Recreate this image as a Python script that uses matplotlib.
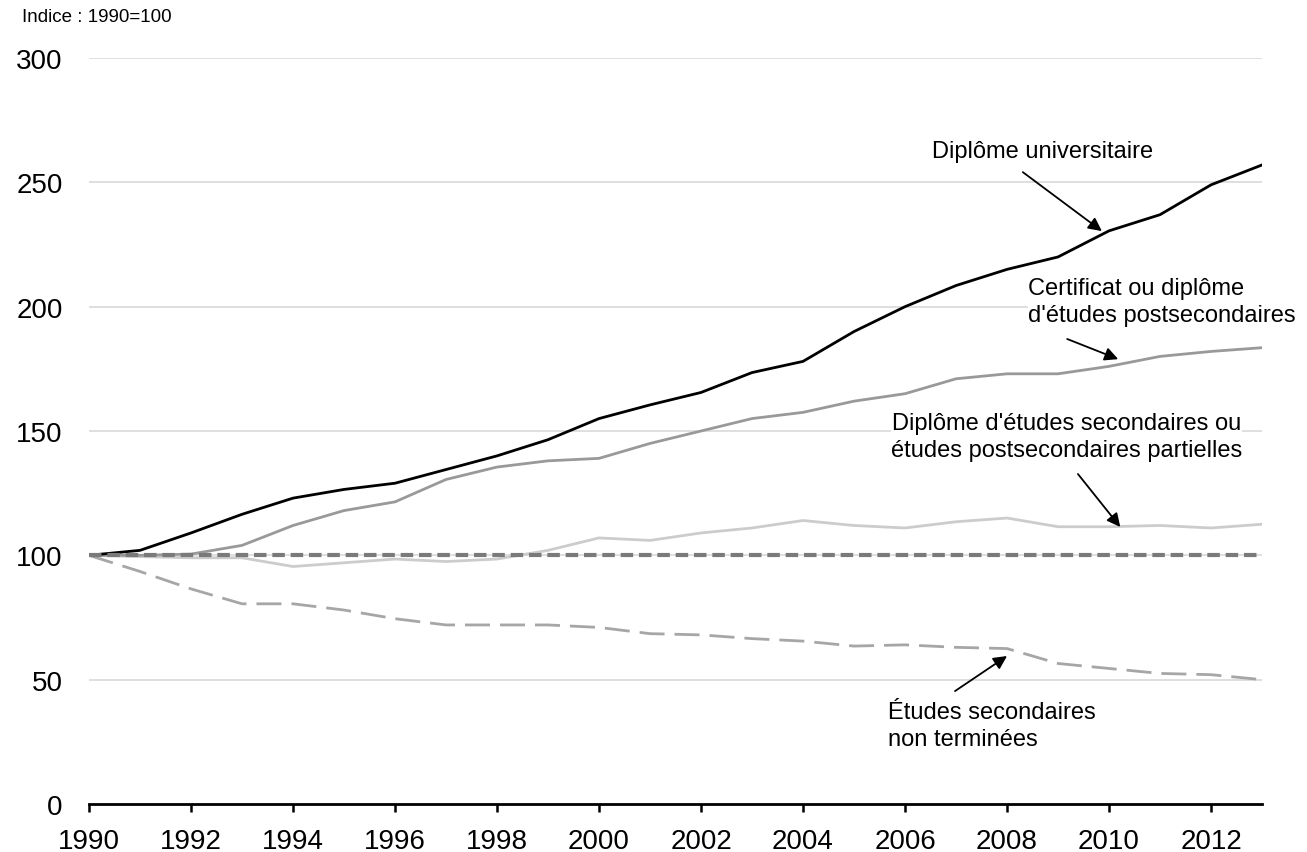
import matplotlib.pyplot as plt

plt.rcParams['font.family'] = ['Liberation Sans', 'DejaVu Sans']

# Données (indice 1990=100)
years = list(range(1990, 2014))
universitaire = [100, 102, 109, 116.5, 123, 126.5, 129, 134.5, 140, 146.5, 155, 160.5,
                 165.5, 173.5, 178, 190, 200, 208.5, 215, 220, 230.5, 237, 249, 257]
certificat = [100, 100, 100.5, 104, 112, 118, 121.5, 130.5, 135.5, 138, 139, 145,
              150, 155, 157.5, 162, 165, 171, 173, 173, 176, 180, 182, 183.5]
secondaires = [100, 99.5, 99, 99, 95.5, 97, 98.5, 97.5, 98.5, 102, 107, 106,
               109, 111, 114, 112, 111, 113.5, 115, 111.5, 111.5, 112, 111, 112.5]
non_terminees = [100, 93.5, 86.5, 80.5, 80.5, 78, 74.5, 72, 72, 72, 71, 68.5,
                 68, 66.5, 65.5, 63.5, 64, 63, 62.5, 56.5, 54.5, 52.5, 52, 50]
baseline = [100] * len(years)

y_ticks = [0, 50, 100, 150, 200, 250, 300]
x_ticks = list(range(1990, 2013, 2))

fig = plt.figure(figsize=(13.07, 8.53), dpi=100)
ax = fig.add_axes([0.0681, 0.0563, 0.8975, 0.8745])

ax.plot(years, universitaire, color='black', lw=2.0, zorder=5)
ax.plot(years, certificat, color='#999999', lw=2.0, zorder=4)
ax.plot(years, secondaires, color='#cccccc', lw=2.0, zorder=3)
ax.plot(years, non_terminees, color='#a6a6a6', lw=2.0, dashes=(9, 3.6), zorder=3)
ax.plot(years, baseline, color='#7a7a7a', lw=3.0, dashes=(3.0, 1.4), zorder=6)

ax.set_xlim(1990, 2013)
ax.set_ylim(0, 300)
ax.set_yticks(y_ticks)
ax.set_xticks(x_ticks)
for v in y_ticks[1:]:
    ax.axhline(v, color='#d9d9d9', lw=1.2, zorder=1)

for s in ['left', 'right', 'top']:
    ax.spines[s].set_visible(False)
ax.spines['bottom'].set_linewidth(2.0)
ax.tick_params(axis='y', length=0, pad=19, labelsize=20)
ax.tick_params(axis='x', length=6, width=1.8, direction='out', pad=11, labelsize=20)

fig.text(22 / 1307, 1 - 18 / 853, 'Indice : 1990=100', fontsize=13.5, va='center', ha='left')

arrow = dict(arrowstyle='-|>', color='black', lw=1.3, mutation_scale=20, shrinkA=0, shrinkB=0)
box = dict(facecolor='white', edgecolor='none', pad=0)

ax.text(2008.69, 262.6, 'Diplôme universitaire', fontsize=17, ha='center', va='center')
ax.annotate('', xy=(2009.86, 230.4), xytext=(2008.31, 254.1), arrowprops=arrow)

ax.text(2008.41, 202.0, "Certificat ou diplôme\nd'études postsecondaires", fontsize=17,
        ha='left', va='center', linespacing=1.3, bbox=box, zorder=7)
ax.annotate('', xy=(2010.18, 178.9), xytext=(2009.18, 187.0), arrowprops=arrow)

ax.text(2009.16, 147.8, "Diplôme d'études secondaires ou\nétudes postsecondaires partielles",
        fontsize=17, ha='center', va='center', linespacing=1.3, bbox=box, zorder=7)
ax.annotate('', xy=(2010.22, 111.4), xytext=(2009.39, 132.7), arrowprops=arrow)

ax.text(2005.67, 31.5, 'Études secondaires\nnon terminées', fontsize=17,
        ha='left', va='center', linespacing=1.3, bbox=box, zorder=7)
ax.annotate('', xy=(2008.0, 59.5), xytext=(2006.98, 45.4), arrowprops=arrow)

fig.savefig('out.png', dpi=100)
